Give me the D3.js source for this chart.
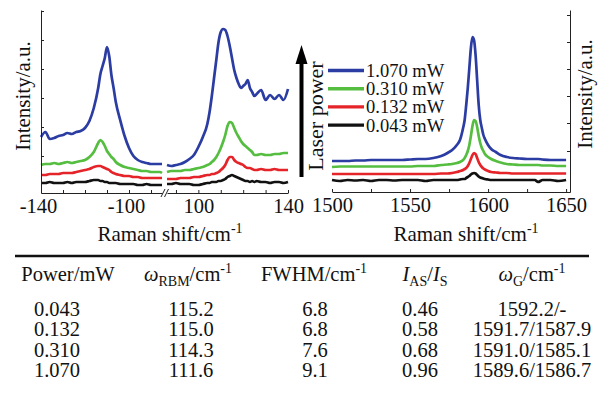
<!DOCTYPE html>
<html>
<head>
<meta charset="utf-8">
<script src="https://cdn.jsdelivr.net/npm/d3@7"></script>
<style>
body { margin: 0; background: #fff; }
svg text { font-family: "Liberation Serif", "Times New Roman", serif; fill: #111; }
</style>
</head>
<body>
<svg id="chart" width="598" height="400"></svg>
<script>
// RBM anti-Stokes side (cm-1) and intensities (a.u.), one array per laser power
const asShift = [-140, -138, -136, -134, -132, -130, -128, -126, -124, -122, -120, -118, -116, -114,
    -113, -112, -111, -110, -109, -108, -107, -106,
    -104, -102, -100, -98, -96, -94, -92, -90, -88, -86, -85];
const asBlue = [56, 61, 54, 55, 57, 58, 60, 59, 61, 62, 65, 72, 85, 105,
    119, 127, 135, 146, 137, 118, 105, 91,
    73, 57, 45, 37, 33, 31, 30, 29, 29, 29, 29];
const asGreen = [28, 29, 29, 30, 29, 30, 31, 30, 31, 32, 33, 36, 41, 50,
    53, 51, 47, 42, 39, 36, 34, 31,
    28, 26, 25, 24, 23, 22, 22, 21, 21, 21, 20];
const asRed = [18, 18, 19, 19, 19, 20, 20, 20, 21, 22, 23, 24, 26, 27,
    27, 26, 25, 24, 23, 21, 20, 19,
    18, 17, 17, 16, 16, 15, 15, 15, 15, 15, 15];
const asBlack = [10, 10, 11, 10, 10, 10, 11, 10, 11, 11, 11, 12, 13, 13,
    12, 12, 11, 11, 10, 10, 10, 10,
    9, 9, 9, 9, 8, 8, 9, 8, 8, 8, 8];

// RBM Stokes side
const sShift = [86, 88, 90, 92, 94, 96, 98, 100, 102, 104,
    105, 106, 107, 108, 109, 110, 111, 112, 113, 114, 115, 116, 117, 118, 119, 120, 121, 122, 123, 124, 125, 126,
    128, 130, 132, 134, 136, 138, 140];
const sBlue = [28, 27, 28, 29, 31, 34, 38, 46, 56, 69,
    81, 97, 115, 133, 151, 161, 164, 163, 157, 147, 135, 123, 115, 109, 105, 107, 109, 113, 105, 101, 97, 99,
    103, 93, 98, 94, 98, 93, 104];
const sGreen = [21, 22, 22, 22, 23, 23, 24, 25, 26, 28,
    29, 31, 33, 36, 40, 45, 51, 58, 67, 71, 70, 65, 60, 56, 52, 49, 47, 45, 43, 41, 38, 38,
    39, 38, 38, 39, 39, 40, 40];
const sRed = [14, 14, 14, 15, 15, 15, 16, 16, 17, 18,
    18, 19, 19, 20, 21, 23, 25, 28, 33, 36, 36, 33, 31, 30, 29, 28, 26, 25, 25, 24, 23, 23,
    24, 23, 23, 24, 23, 23, 23];
const sBlack = [9, 9, 10, 9, 9, 9, 8, 8, 9, 10,
    10, 11, 11, 11, 12, 12, 13, 14, 16, 17, 18, 17, 16, 15, 14, 13, 12, 12, 11, 12, 11, 12,
    11, 11, 10, 11, 11, 10, 11];

// G band
const gShift = [1500, 1505, 1510, 1515, 1520, 1525, 1530, 1535, 1540, 1545, 1550, 1555, 1560, 1565, 1570,
    1574, 1577, 1580, 1582, 1584,
    1585, 1586, 1587, 1588, 1589, 1590, 1591, 1592, 1593, 1594, 1595, 1596, 1597, 1598,
    1600, 1602, 1605, 1608, 1612, 1616, 1620, 1625, 1630, 1632, 1635, 1640, 1645, 1650];
const gBlue = [31, 31, 31, 31.5, 31.5, 32, 32, 32, 32, 32, 32.5, 33, 33, 34, 36,
    39, 42, 47, 52, 64,
    72, 87, 104, 124, 144, 155, 152, 137, 112, 87, 72, 64, 57, 53,
    47, 43, 40, 37, 35, 34, 33.5, 33, 33, 33, 32.5, 32, 32, 32];
const gGreen = [25, 25.5, 25.5, 25.5, 25.5, 25.5, 25.5, 25.5, 25.5, 25.5, 25.5, 26, 26, 26, 27,
    27.5, 28, 29, 30, 32,
    34, 37, 41, 47, 56, 66, 72, 71, 65, 56, 49, 44, 41, 38,
    35, 33, 31, 29.5, 28, 27.5, 27, 27, 27, 27, 26.5, 26.5, 26, 26];
const gRed = [18, 18, 18, 18, 18, 18, 18, 18, 18, 18, 18, 18, 18, 18, 18.5,
    18.5, 19, 20, 21, 22,
    23, 24, 26, 29, 33, 37, 39, 38, 34, 30, 27, 25, 23.5, 22.5,
    21, 20, 19.5, 19, 19, 18.5, 18.5, 18.5, 18.5, 18.5, 18.5, 18.5, 18.5, 18.5];
const gBlack = [12, 11, 12, 11.5, 12, 11, 12, 12, 11.5, 12, 12, 12, 11, 12, 12,
    12, 12, 12, 12.5, 13,
    13, 14, 15, 16, 17.5, 18.5, 19, 18.5, 17, 15.5, 14.5, 14, 13.5, 13,
    12.5, 12, 12, 12, 12, 12, 12, 12, 12, 10, 12, 12, 11, 12];

const powers = ['1.070 mW', '0.310 mW', '0.132 mW', '0.043 mW'];

// ticks
const asTicks = [-140, -130, -120, -110, -100, -90];
const asTickLabels = [-140, -100];
const sTicks = [90, 100, 110, 120, 130, 140];
const sTickLabels = [100, 140];
const gTicks = [1500, 1525, 1550, 1575, 1600, 1625, 1650];
const gTickLabels = [1500, 1550, 1600, 1650];
const leftYTicks = [37, 66, 95, 124, 153, 182];
const rightYTicks = [41, 69, 96, 123, 150, 177];

// table
const tablePower = ['0.043', '0.132', '0.310', '1.070'];
const tableRbm = ['115.2', '115.0', '114.3', '111.6'];
const tableFwhm = ['6.8', '6.8', '7.6', '9.1'];
const tableRatio = ['0.46', '0.58', '0.68', '0.96'];
const tableG = ['1592.2/-', '1591.7/1587.9', '1591.0/1585.1', '1589.6/1586.7'];

let colors = ['#2b3ca3', '#55be40', '#e5242a', '#111111'];
let svg = d3.select('#chart');

let xAS = d3.scaleLinear().domain([-140, -85]).range([41, 162]);
let xS = d3.scaleLinear().domain([86, 140]).range([167, 288]);
let yL = d3.scaleLinear().domain([0, 183]).range([193, 10]);
let xG = d3.scaleLinear().domain([1500, 1652.5]).range([332, 570]);
let yR = d3.scaleLinear().domain([0, 182]).range([192, 10]);

function styleAxis(g) {
    g.select('.domain').attr('stroke', '#222').attr('stroke-width', 1);
    g.selectAll('.tick line').attr('stroke', '#222').attr('stroke-width', 1);
    g.selectAll('.tick text').attr('font-size', 20.5).attr('fill', '#111')
        .attr('font-family', '"Liberation Serif", "Times New Roman", serif');
}

function drawSeries(xs, list, x, y) {
    let line = d3.line()
        .x((d, i) => x(xs[i]))
        .y(d => y(d))
        .curve(d3.curveMonotoneX);
    svg.append('g').selectAll('path')
        .data(list.slice().reverse())
        .enter()
        .append('path')
        .attr('d', d => line(d))
        .attr('fill', 'none')
        .attr('stroke', (d, i) => colors[list.length - 1 - i])
        .attr('stroke-width', 2.7)
        .attr('stroke-linejoin', 'round');
}

drawSeries(asShift, [asBlue, asGreen, asRed, asBlack], xAS, yL);
drawSeries(sShift, [sBlue, sGreen, sRed, sBlack], xS, yL);
drawSeries(gShift, [gBlue, gGreen, gRed, gBlack], xG, yR);

// left panel axes
svg.append('g')
    .attr('transform', `translate(0, ${yL(0)})`)
    .call(d3.axisBottom(xAS).tickValues(asTicks).tickSizeInner(-3).tickSizeOuter(0).tickPadding(5)
        .tickFormat(d => asTickLabels.includes(d) ? d : ''))
    .call(styleAxis)
    .selectAll('.tick text').attr('dx', -3);

svg.append('g')
    .attr('transform', `translate(0, ${yL(0)})`)
    .call(d3.axisBottom(xS).tickValues(sTicks).tickSizeInner(-3).tickSizeOuter(0).tickPadding(5)
        .tickFormat(d => sTickLabels.includes(d) ? d : ''))
    .call(styleAxis);

svg.append('g')
    .attr('transform', `translate(${xAS(-140)}, 0)`)
    .call(d3.axisLeft(yL).tickValues(leftYTicks).tickSizeInner(-3).tickSizeOuter(0).tickFormat(''))
    .call(styleAxis);

// axis break
let brk = svg.append('g').attr('stroke', '#222').attr('stroke-width', 1);
[161, 164.5].forEach(bx => {
    brk.append('line').attr('x1', bx).attr('y1', yL(0) + 4).attr('x2', bx + 4).attr('y2', yL(0) - 4);
});

// right panel axes
svg.append('g')
    .attr('transform', `translate(0, ${yR(0)})`)
    .call(d3.axisBottom(xG).tickValues(gTicks).tickSizeInner(-3).tickSizeOuter(0).tickPadding(5)
        .tickFormat(d => gTickLabels.includes(d) ? d : ''))
    .call(styleAxis);

svg.append('g')
    .attr('transform', `translate(${xG.range()[1]}, 0)`)
    .call(d3.axisRight(yR).tickValues(rightYTicks).tickSizeInner(-3).tickSizeOuter(0).tickFormat(''))
    .call(styleAxis);

// rich text helper: parts of {t, it, sub, sup}
function richText(sel, parts, small) {
    let shift = 0;
    parts.forEach(p => {
        let target = p.sub ? 5 : p.sup ? -8 : 0;
        let ts = sel.append('tspan').text(p.t).attr('dy', target - shift);
        if (p.it) ts.attr('font-style', 'italic');
        if (p.sub || p.sup) ts.attr('font-size', small);
        shift = target;
    });
}

// axis titles
[[170, 241], [466, 241]].forEach(([tx, ty]) => {
    let t = svg.append('text').attr('x', tx).attr('y', ty)
        .attr('text-anchor', 'middle').attr('font-size', 21);
    richText(t, [{ t: 'Raman shift/cm' }, { t: '-1', sup: true }], 14);
});

svg.append('text')
    .attr('transform', 'translate(30, 96) rotate(-90)')
    .attr('text-anchor', 'middle').attr('font-size', 21)
    .text('Intensity/a.u.');

svg.append('text')
    .attr('transform', 'translate(592, 94) rotate(-90)')
    .attr('text-anchor', 'middle').attr('font-size', 21)
    .text('Intensity/a.u.');

// laser power arrow
let arrow = svg.append('g').attr('fill', '#000');
arrow.append('rect').attr('x', 299.5).attr('y', 62).attr('width', 4).attr('height', 115);
arrow.append('path').attr('d', 'M301.5,45 L307.5,64 L295.5,64 Z');

svg.append('text')
    .attr('transform', 'translate(323, 116) rotate(-90)')
    .attr('text-anchor', 'middle').attr('font-size', 22)
    .text('Laser power');

// legend
let legend = svg.append('g').selectAll('g')
    .data(powers)
    .enter()
    .append('g')
    .attr('transform', (d, i) => `translate(328, ${70.5 + i * 18.2})`);

legend.append('line')
    .attr('x1', 0).attr('x2', 36)
    .attr('stroke', (d, i) => colors[i])
    .attr('stroke-width', 3.4);

legend.append('text')
    .attr('x', 38).attr('dy', '0.35em')
    .attr('font-size', 18.5)
    .text(d => d);

// table
svg.append('line')
    .attr('x1', 15).attr('x2', 589).attr('y1', 256).attr('y2', 256)
    .attr('stroke', '#111').attr('stroke-width', 2.5);

let headers = [
    [{ t: 'Power/mW' }],
    [{ t: 'ω', it: true }, { t: 'RBM', sub: true }, { t: '/cm' }, { t: '-1', sup: true }],
    [{ t: 'FWHM/cm' }, { t: '-1', sup: true }],
    [{ t: 'I', it: true }, { t: 'AS', sub: true }, { t: '/' }, { t: 'I', it: true }, { t: 'S', sub: true }],
    [{ t: 'ω', it: true }, { t: 'G', sub: true }, { t: '/cm' }, { t: '-1', sup: true }]
];
let headerX = [68, 188, 314, 425, 532];
let valueX = [57, 191, 315, 420, 532];

headers.forEach((h, i) => {
    let t = svg.append('text').attr('x', headerX[i]).attr('y', 281)
        .attr('text-anchor', 'middle').attr('font-size', 20.5);
    richText(t, h, 14);
});

let columns = [tablePower, tableRbm, tableFwhm, tableRatio, tableG];
columns.forEach((col, c) => {
    svg.append('g').selectAll('text')
        .data(col)
        .enter()
        .append('text')
        .attr('x', valueX[c])
        .attr('y', (d, i) => 316 + i * 20.3)
        .attr('text-anchor', 'middle')
        .attr('font-size', 20.5)
        .text(d => d);
});
</script>
</body>
</html>
